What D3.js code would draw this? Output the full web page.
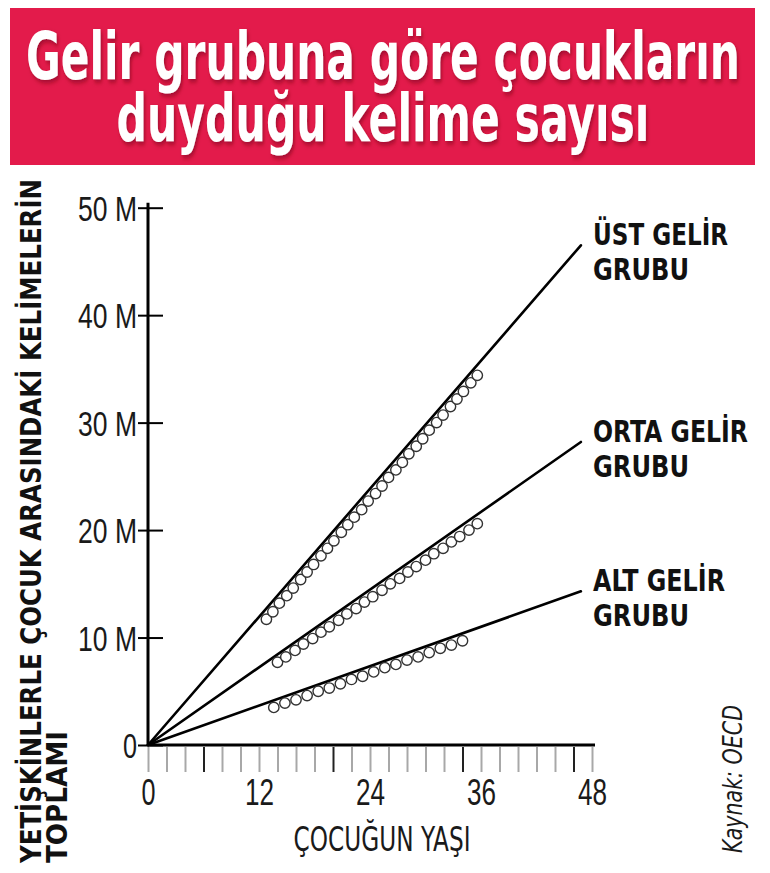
<!DOCTYPE html>
<html>
<head>
<meta charset="utf-8">
<script src="https://cdn.jsdelivr.net/npm/d3@7"></script>
<style>
  body { margin: 0; background: #fff; }
  svg { display: block; font-family: "Liberation Sans Narrow", "DejaVu Sans Condensed", "DejaVu Sans", sans-serif; }
</style>
</head>
<body>
<div id="chart"></div>
<script>
// chart values
var titleLines = ["Gelir grubuna göre çocukların", "duyduğu kelime sayısı"];
var groupNames = [["ÜST GELİR", "GRUBU"], ["ORTA GELİR", "GRUBU"], ["ALT GELİR", "GRUBU"]];

// trend lines: start at origin, end at this age (months) with these totals (millions)
var lineEndAge = 46.8;
var lineEndValues = [46.5, 28.2, 14.3];

// measured points (age in months, cumulative words in millions)
var upperAges = [12.8, 13.5, 14.2, 15.0, 15.7, 16.5, 17.2, 17.9, 18.7, 19.4, 20.1, 20.9, 21.6, 22.3, 23.1, 23.8,
                 24.6, 25.3, 26.0, 26.8, 27.5, 28.2, 29.0, 29.7, 30.4, 31.2, 31.9, 32.7, 33.4, 34.1, 34.9, 35.6];
var upperValues = [11.7, 12.4, 13.2, 13.9, 14.6, 15.4, 16.1, 16.8, 17.6, 18.3, 19.0, 19.8, 20.5, 21.2, 21.9, 22.7,
                   23.4, 24.1, 24.9, 25.6, 26.3, 27.1, 27.8, 28.5, 29.3, 30.0, 30.7, 31.5, 32.2, 32.9, 33.7, 34.4];
var middleAges = [14.0, 14.9, 15.9, 16.8, 17.8, 18.7, 19.6, 20.6, 21.5, 22.5, 23.4, 24.3,
                  25.3, 26.2, 27.2, 28.1, 29.0, 30.0, 30.9, 31.9, 32.8, 33.7, 34.7, 35.6];
var middleValues = [7.7, 8.2, 8.8, 9.4, 9.9, 10.5, 11.0, 11.6, 12.2, 12.7, 13.3, 13.8,
                    14.4, 15.0, 15.5, 16.1, 16.6, 17.2, 17.8, 18.3, 18.9, 19.4, 20.0, 20.6];
var lowerAges = [13.6, 14.8, 16.0, 17.2, 18.4, 19.6, 20.8, 22.0, 23.2, 24.4, 25.6, 26.8, 28.0, 29.2, 30.4, 31.6, 32.8, 34.0];
var lowerValues = [3.5, 3.9, 4.2, 4.6, 5.0, 5.3, 5.7, 6.1, 6.4, 6.8, 7.2, 7.5, 7.9, 8.2, 8.6, 9.0, 9.3, 9.7];

var yTicks = [0, 10, 20, 30, 40, 50];
var xTicks = [0, 2, 4, 6, 8, 10, 12, 14, 16, 18, 20, 22, 24, 26, 28, 30, 32, 34, 36, 38, 40, 42, 44, 46, 48];
var xTickLabels = [0, 12, 24, 36, 48];
var xDarkTicks = [6, 20, 34, 46];

var svgWidth = 770, svgHeight = 873;

var svg = d3.select("#chart").append("svg")
    .attr("width", svgWidth)
    .attr("height", svgHeight);

var defs = svg.append("defs");
defs.append("filter")
    .attr("id", "shadow")
    .attr("filterUnits", "userSpaceOnUse")
    .attr("x", -2000).attr("y", -200).attr("width", 4000).attr("height", 400)
  .append("feDropShadow")
    .attr("dx", 2).attr("dy", 3)
    .attr("stdDeviation", 2.5)
    .attr("flood-color", "#6d0019")
    .attr("flood-opacity", 0.55);

// title banner
svg.append("rect")
    .attr("x", 10).attr("y", 8)
    .attr("width", 745).attr("height", 157)
    .attr("fill", "#e31b4b");

// title lines: squeeze the bold face to the narrow width of the original
var titleWidths = [714, 533];
var titleBaselines = [79, 141];
svg.selectAll(".title")
    .data(titleLines)
  .enter().append("text")
    .attr("class", "title")
    .attr("text-anchor", "middle")
    .attr("fill", "#fff")
    .attr("font-weight", "bold")
    .attr("font-size", 66)
    .attr("filter", "url(#shadow)")
    .text(function(d) { return d; })
    .attr("transform", function(d, i) {
      var w = this.getComputedTextLength();
      return "translate(383," + titleBaselines[i] + ") scale(" + (titleWidths[i] / w) + ",1)";
    });

var x = d3.scaleLinear().domain([0, 48]).range([148, 592]);
var y = d3.scaleLinear().domain([0, 50]).range([745, 207.7]);

// y axis
var yAxis = svg.append("g")
    .attr("transform", "translate(" + x(0) + ",0)")
    .call(d3.axisLeft(y)
      .tickValues(yTicks)
      .tickSizeOuter(0)
      .tickSize(10)
      .tickPadding(1)
      .tickFormat(function(d) { return d === 0 ? "0" : d + " M"; }));
yAxis.select(".domain")
    .attr("d", "M0," + (y(50) - 5) + "V" + y(0))
    .attr("stroke", "#000").attr("stroke-width", 3);
yAxis.selectAll(".tick line")
    .attr("x1", 15).attr("x2", -10)
    .attr("stroke", "#000").attr("stroke-width", 2);
yAxis.selectAll(".tick text")
    .attr("font-family", null)
    .attr("font-size", 35)
    .attr("fill", "#1a1a1a")
    .attr("dy", "0.36em")
    .attr("textLength", function(d) { return d === 0 ? 14 : 59; })
    .attr("lengthAdjust", "spacingAndGlyphs");

// x axis
var xAxis = svg.append("g")
    .attr("transform", "translate(0," + y(0) + ")")
    .call(d3.axisBottom(x)
      .tickValues(xTicks)
      .tickSizeOuter(0)
      .tickSize(27)
      .tickPadding(7)
      .tickFormat(function(d) { return xTickLabels.indexOf(d) >= 0 ? d : ""; }));
xAxis.select(".domain")
    .attr("d", "M" + x(0) + ",0H" + (x(48) + 3))
    .attr("stroke", "#000").attr("stroke-width", 3);
xAxis.selectAll(".tick line")
    .attr("stroke", function(d) { return xDarkTicks.indexOf(d) >= 0 ? "#222" : "#a8a8a8"; })
    .attr("stroke-width", 2)
    .attr("y1", 2);
xAxis.selectAll(".tick text")
    .attr("font-family", null)
    .attr("font-size", 36)
    .attr("fill", "#1a1a1a")
    .filter(function(d) { return xTickLabels.indexOf(d) >= 0; })
    .attr("textLength", function(d) { return d === 0 ? 14 : 29; })
    .attr("lengthAdjust", "spacingAndGlyphs");

// trend lines
var line = d3.line()
    .x(function(d) { return x(d[0]); })
    .y(function(d) { return y(d[1]); });

svg.selectAll(".trend")
    .data(lineEndValues)
  .enter().append("path")
    .attr("class", "trend")
    .attr("fill", "none")
    .attr("stroke", "#000")
    .attr("stroke-width", 2.6)
    .attr("stroke-linecap", "round")
    .attr("d", function(v) { return line([[0, 0], [lineEndAge, v]]); });

// measured points
var series = [
  d3.zip(upperAges, upperValues),
  d3.zip(middleAges, middleValues),
  d3.zip(lowerAges, lowerValues)
];

series.forEach(function(pts) {
  svg.append("g").selectAll("circle")
      .data(pts)
    .enter().append("circle")
      .attr("cx", function(d) { return x(d[0]); })
      .attr("cy", function(d) { return y(d[1]); })
      .attr("r", 5.2)
      .attr("fill", "#fff")
      .attr("stroke", "#333")
      .attr("stroke-width", 1.4);
});

// group labels at the line ends
var labelWidths = [[135, 96], [155, 96], [132, 96]];
groupNames.forEach(function(name, i) {
  var t = svg.append("text")
      .attr("font-weight", "bold")
      .attr("font-size", 30)
      .attr("fill", "#111");
  name.forEach(function(part, j) {
    t.append("tspan")
        .attr("x", 593)
        .attr("y", y(lineEndValues[i]) + j * 35)
        .attr("textLength", labelWidths[i][j])
        .attr("lengthAdjust", "spacingAndGlyphs")
        .text(part);
  });
});

// axis titles
svg.append("text")
    .attr("transform", "translate(41,863) rotate(-90)")
    .attr("font-weight", "bold")
    .attr("font-size", 28)
    .attr("fill", "#111")
    .attr("textLength", 684)
    .attr("lengthAdjust", "spacingAndGlyphs")
    .text("YETİŞKİNLERLE ÇOCUK ARASINDAKİ KELİMELERİN");

svg.append("text")
    .attr("transform", "translate(67,863) rotate(-90)")
    .attr("font-weight", "bold")
    .attr("font-size", 28)
    .attr("fill", "#111")
    .attr("textLength", 132)
    .attr("lengthAdjust", "spacingAndGlyphs")
    .text("TOPLAMI");

svg.append("text")
    .attr("x", 382)
    .attr("y", 851)
    .attr("text-anchor", "middle")
    .attr("font-size", 33)
    .attr("fill", "#1a1a1a")
    .attr("textLength", 177)
    .attr("lengthAdjust", "spacingAndGlyphs")
    .text("ÇOCUĞUN YAŞI");

svg.append("text")
    .attr("transform", "translate(742,853) rotate(-90)")
    .attr("font-style", "italic")
    .attr("font-size", 27)
    .attr("fill", "#1a1a1a")
    .attr("textLength", 148)
    .attr("lengthAdjust", "spacingAndGlyphs")
    .text("Kaynak: OECD");
</script>
</body>
</html>
